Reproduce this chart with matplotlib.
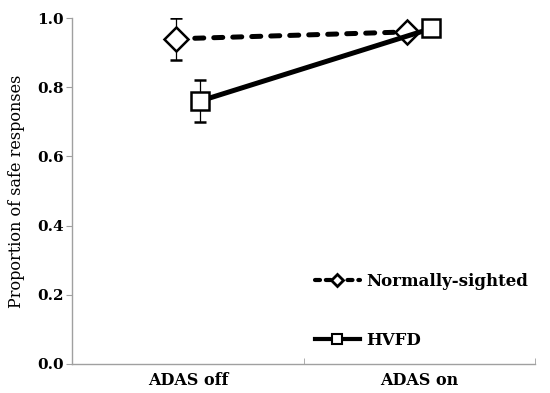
import numpy as np
import matplotlib.pyplot as plt
from matplotlib.lines import Line2D

conditions = ['ADAS off', 'ADAS on']
normal_vals = [0.94, 0.96]
normal_err = [0.06, 0.0]
hvfd_vals = [0.76, 0.97]
hvfd_err = [0.06, 0.0]

plt.rcParams['font.family'] = ['DejaVu Serif']

fig = plt.figure(figsize=(5.5, 3.93), dpi=100)
ax = fig.add_axes([0.131, 0.074, 0.842, 0.880])

x = np.arange(len(conditions))
off = 0.052

ax.errorbar(x - off, normal_vals, yerr=normal_err, color='black', ls='--', lw=3.6,
            dashes=(1.8, 2.0), dash_capstyle='round', marker='D', ms=12.5, mfc='white',
            mec='black', mew=1.8, ecolor='black', elinewidth=0.9, capsize=4.5,
            capthick=0.9, zorder=3)
ax.errorbar(x + off, hvfd_vals, yerr=hvfd_err, color='black', ls='-', lw=3.6,
            marker='s', ms=13.5, mfc='white', mec='black', mew=1.8,
            ecolor='black', elinewidth=0.9, capsize=4.5, capthick=0.9, zorder=4)

ax.set_xlim(-0.5, 1.5)
ax.set_ylim(0, 1.0)
ax.set_yticks(np.arange(0, 1.01, 0.2))
ax.set_yticklabels(['%.1f' % v for v in np.arange(0, 1.01, 0.2)], fontweight='bold', fontsize=11)
ax.set_xticks(x)
ax.set_xticklabels(conditions, fontweight='bold', fontsize=11.5)
ax.set_xticks([-0.5, 0.5, 1.5], minor=True)
ax.tick_params(axis='x', which='major', length=0, pad=6)
ax.tick_params(axis='x', which='minor', length=4, color='#a0a0a0', direction='in')
ax.tick_params(axis='y', length=4, color='#a0a0a0', pad=2)

for s in ['top', 'right']:
    ax.spines[s].set_visible(False)
for s in ['left', 'bottom']:
    ax.spines[s].set_color('#a0a0a0')
    ax.spines[s].set_linewidth(1.0)

ax.set_ylabel('Proportion of safe responses', fontsize=11.5, labelpad=9)

handles = [
    Line2D([], [], color='black', ls='--', lw=3, dashes=(1.2, 1.4), dash_capstyle='round',
           marker='D', ms=6, mfc='white', mec='black', mew=2),
    Line2D([], [], color='black', ls='-', lw=3, marker='s', ms=7,
           mfc='white', mec='black', mew=1.5),
]
ax.legend(handles, ['Normally-sighted', 'HVFD'], loc='lower left', bbox_to_anchor=(0.51, 0.025),
          borderaxespad=0, frameon=False, handlelength=2.7, handletextpad=0.4, labelspacing=2.5,
          prop={'weight': 'bold', 'size': 12})

fig.savefig('out.png', dpi=100)
